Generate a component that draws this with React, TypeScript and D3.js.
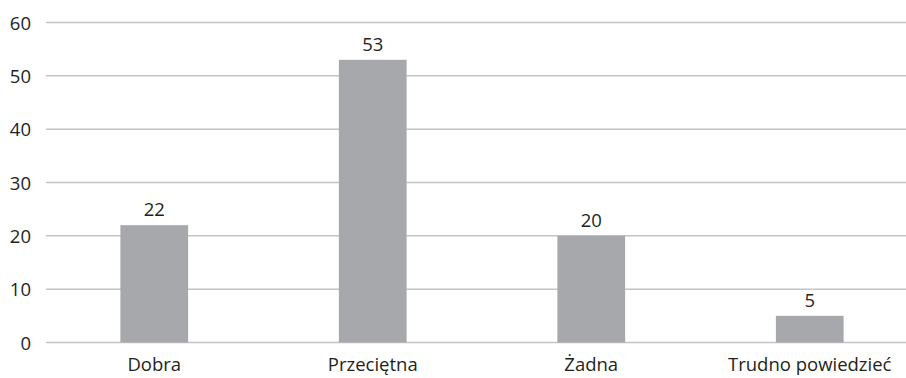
import React, { useRef, useEffect } from "react";
import * as d3 from "d3";

const categories = ["Dobra", "Przeciętna", "Żadna", "Trudno powiedzieć"];
const values = [22, 53, 20, 5];
const yTicks = [0, 10, 20, 30, 40, 50, 60];

const W = 906;
const H = 378;

const App = () => {
  const ref = useRef<SVGSVGElement>(null);

  useEffect(() => {
    const svg = d3.select(ref.current);
    svg.selectAll("*").remove();

    const font = "'Open Sans', 'Noto Sans', sans-serif";
    const fontSize = "18.5px";
    const gridLeft = 46;

    const x = d3
      .scaleBand()
      .domain(categories)
      .range([45, 919])
      .paddingInner(0.69)
      .paddingOuter(0.345);

    const y = d3.scaleLinear().domain([0, 60]).range([342.5, 22.5]);

    // gridlines
    svg
      .append("g")
      .selectAll("line")
      .data(yTicks)
      .enter()
      .append("line")
      .attr("x1", gridLeft)
      .attr("x2", W)
      .attr("y1", (d) => y(d))
      .attr("y2", (d) => y(d))
      .attr("stroke", "#c4c4c6")
      .attr("stroke-width", 1.5);

    // y tick labels
    svg
      .append("g")
      .selectAll("text")
      .data(yTicks)
      .enter()
      .append("text")
      .attr("x", 31)
      .attr("y", (d) => y(d) + 7)
      .attr("text-anchor", "end")
      .style("font-family", font)
      .style("font-size", fontSize)
      .style("fill", "#231f20")
      .text((d) => d);

    // bars
    svg
      .append("g")
      .selectAll("rect")
      .data(values)
      .enter()
      .append("rect")
      .attr("x", (d, i) => x(categories[i])!)
      .attr("width", x.bandwidth())
      .attr("y", (d) => y(d))
      .attr("height", (d) => y(0) - y(d))
      .attr("fill", "#a7a8ab");

    // value labels
    svg
      .append("g")
      .selectAll("text")
      .data(values)
      .enter()
      .append("text")
      .attr("x", (d, i) => x(categories[i])! + x.bandwidth() / 2)
      .attr("y", (d) => y(d) - 9)
      .attr("text-anchor", "middle")
      .style("font-family", font)
      .style("font-size", fontSize)
      .style("fill", "#231f20")
      .text((d) => d);

    // category labels
    svg
      .append("g")
      .selectAll("text")
      .data(categories)
      .enter()
      .append("text")
      .attr("x", (d) => x(d)! + x.bandwidth() / 2)
      .attr("y", 371)
      .attr("text-anchor", "middle")
      .style("font-family", font)
      .style("font-size", fontSize)
      .style("fill", "#231f20")
      .text((d) => d);
  }, []);

  return (
    <svg
      ref={ref}
      width={W}
      height={H}
      style={{ position: "absolute", left: 0, top: 0, background: "#fff" }}
    />
  );
};

export default App;
